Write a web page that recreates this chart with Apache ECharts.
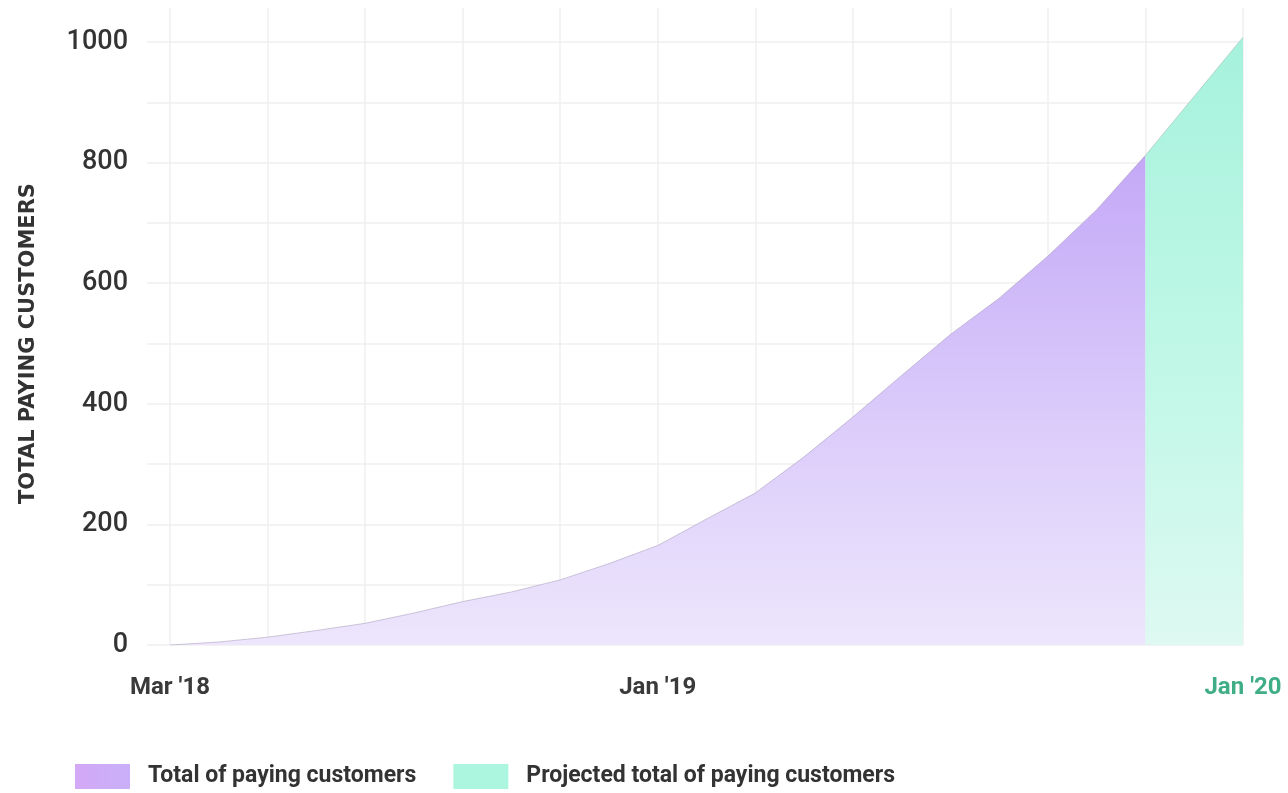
<!DOCTYPE html>
<html>
<head>
<meta charset="utf-8">
<script src="https://cdn.jsdelivr.net/npm/echarts@6/dist/echarts.min.js"></script>
<style>
html,body{margin:0;padding:0;background:#fff;}
#chart{width:1288px;height:793px;}
</style>
</head>
<body>
<div id="chart"></div>
<script>
// ---- data ----
var months = ["Mar '18","Apr '18","May '18","Jun '18","Jul '18","Aug '18","Sep '18","Oct '18","Nov '18","Dec '18",
  "Jan '19","Feb '19","Mar '19","Apr '19","May '19","Jun '19","Jul '19","Aug '19","Sep '19","Oct '19","Nov '19","Dec '19","Jan '20"];
var shownLabels = ["Mar '18","Jan '19","Jan '20"];
var actual = [0,5,13,24,36,53,72,88,108,135,165,209,252,312,378,447,515,575,645,722,812,'-','-'];
var projected = ['-','-','-','-','-','-','-','-','-','-','-','-','-','-','-','-','-','-','-','-',812,910,1008];
var seriesNames = ['Total of paying customers','Projected total of paying customers'];
var yTicks = [0,200,400,600,800,1000];

var chart = echarts.init(document.getElementById('chart'));
var font = 'Roboto, "Noto Sans", sans-serif';
var option = {
  animation:false,
  backgroundColor:'#fff',
  grid:[
    {left:147,right:45,top:42,bottom:148},
    {left:170,right:45,top:8,bottom:148}
  ],
  xAxis:[
    {gridIndex:0,type:'value',min:0,max:1,show:false},
    {gridIndex:1,type:'category',data:months,boundaryGap:false,
     axisLine:{show:false},axisTick:{show:false},
     splitLine:{show:true,interval:1,lineStyle:{color:'#efefef',width:1.5}},
     axisLabel:{
       interval:function(i,v){return shownLabels.indexOf(v)>=0;},
       margin:31,fontFamily:font,fontSize:24,fontWeight:'bold',color:'#3a3a3a',
       formatter:function(v){return v===months[months.length-1]?'{g|'+v+'}':v;},
       rich:{g:{color:'#3fae86',fontFamily:font,fontSize:24,fontWeight:'bold'}}
     }}
  ],
  yAxis:[
    {gridIndex:0,type:'value',min:0,max:1000,interval:100,
     axisLine:{show:false},axisTick:{show:false},
     splitLine:{lineStyle:{color:'#efefef',width:1.5}},
     axisLabel:{margin:19,fontFamily:font,fontSize:27,fontWeight:500,color:'#333',
       formatter:function(v){return yTicks.indexOf(v)>=0?String(v):'';}},
     name:'TOTAL PAYING CUSTOMERS',nameLocation:'middle',nameRotate:90,nameGap:108,
     nameTextStyle:{fontFamily:'"DejaVu Sans", sans-serif',fontSize:21,fontWeight:'bold',color:'#333'}},
    {gridIndex:1,type:'value',min:0,max:1056.4,show:false}
  ],
  legend:{
    left:75,top:764,padding:0,itemWidth:55,itemHeight:25,itemGap:37,icon:'rect',
    textStyle:{fontFamily:font,fontSize:23,fontWeight:'bold',color:'#333',padding:[0,0,0,13]},
    data:[
      {name:seriesNames[0],itemStyle:{color:new echarts.graphic.LinearGradient(0,0,1,0,[{offset:0,color:'#d3a8f7'},{offset:1,color:'#c9b0f8'}])}},
      {name:seriesNames[1],itemStyle:{color:'#acf5de'}}
    ]
  },
  series:[
    {name:seriesNames[0],type:'line',xAxisIndex:1,yAxisIndex:1,data:actual,symbol:'none',
     itemStyle:{color:'#cdaaf7'},
     lineStyle:{width:1,color:'rgba(150,140,170,0.45)'},
     areaStyle:{opacity:1,color:new echarts.graphic.LinearGradient(0,0,0,1,[
       {offset:0,color:'#c4a8f7'},{offset:0.5,color:'#d9c9fa'},{offset:1,color:'#ede6fc'}])}},
    {name:seriesNames[1],type:'line',xAxisIndex:1,yAxisIndex:1,data:projected,symbol:'none',
     itemStyle:{color:'#acf5de'},
     lineStyle:{width:1,color:'rgba(150,170,165,0.45)'},
     areaStyle:{opacity:1,color:new echarts.graphic.LinearGradient(0,0,0,1,[
       {offset:0,color:'#a6f2dc'},{offset:0.6,color:'#c4f8e8'},{offset:1,color:'#def9f2'}])}}
  ]
};
chart.setOption(option);
</script>
</body>
</html>
